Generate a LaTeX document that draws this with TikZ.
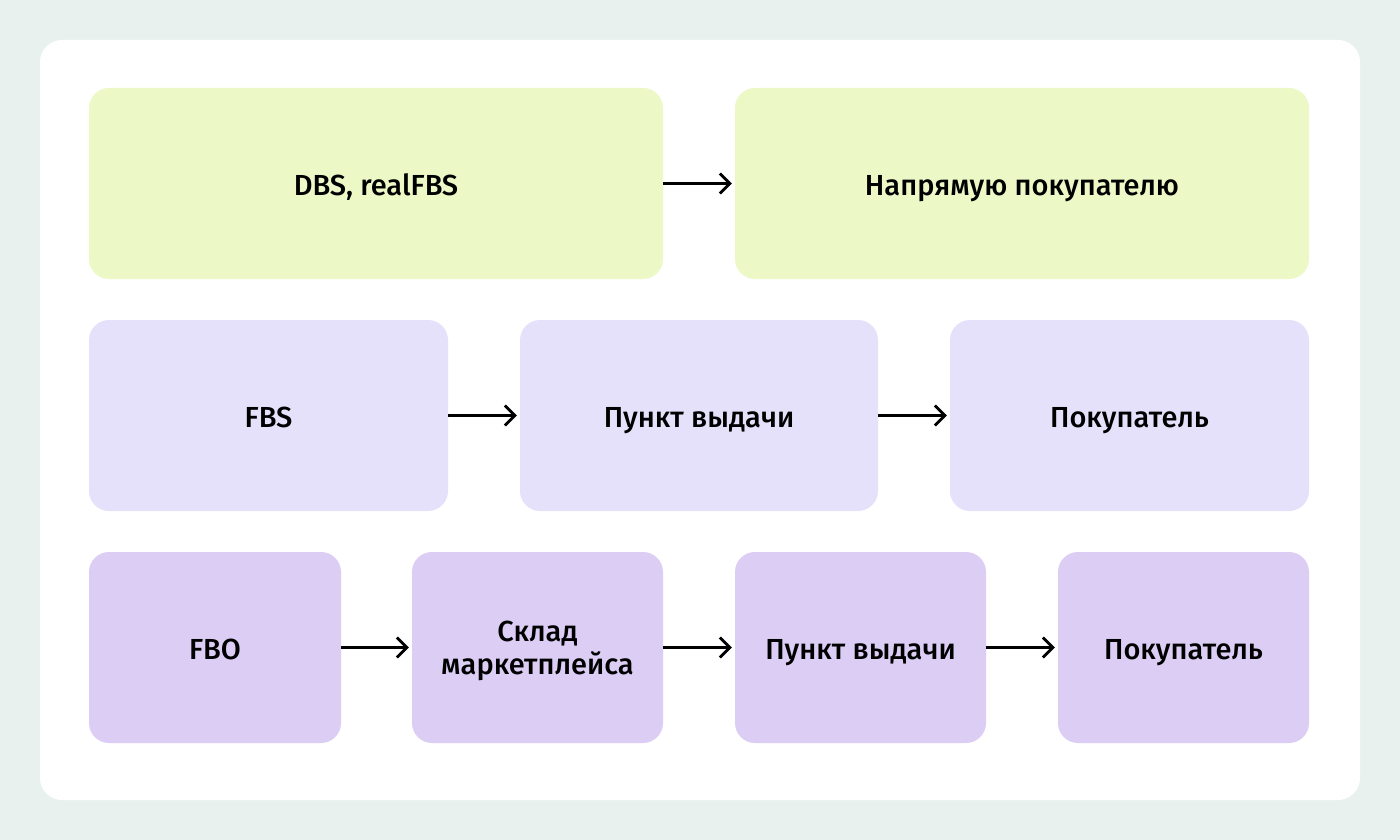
\documentclass[tikz,border=0pt]{standalone}
\usepackage{fontspec}
\setmainfont{Fira Sans}[UprightFont=* Medium, BoldFont=* SemiBold]
\usetikzlibrary{arrows.meta}
\definecolor{bgc}{HTML}{E9F1EF}
\definecolor{gbox}{HTML}{ECF8C5}
\definecolor{lbox}{HTML}{E6E1FB}
\definecolor{pbox}{HTML}{DCCDF5}
\tikzset{
  box/.style={rounded corners=20pt, inner sep=0pt, minimum height=191pt},
  txtbase/.style={inner sep=0pt, align=center, font=\fontsize{29}{33}\selectfont, text=black},
  txt/.style={txtbase, anchor=base, yshift=-11.5pt},
  txttwo/.style={txtbase, yshift=-3.5pt},
  arr/.style={line width=2.8pt, -{Straight Barb[length=10pt,width=20pt,line width=2.8pt]}, shorten >=3pt}
}
\begin{document}
\begin{tikzpicture}[x=1pt,y=-1pt]
\fill[bgc] (0,0) rectangle (1400,840);
\useasboundingbox (0,0) rectangle (1400,840);
\fill[white, rounded corners=22pt] (40,40) rectangle (1360,800);
% row 1
\node[box, fill=gbox, minimum width=574pt] (a1) at (376,183.5) {};
\node[box, fill=gbox, minimum width=574pt] (a2) at (1022,183.5) {};
% row 2
\node[box, fill=lbox, minimum width=359pt] (b1) at (268.5,415.5) {};
\node[box, fill=lbox, minimum width=358pt] (b2) at (699,415.5) {};
\node[box, fill=lbox, minimum width=359pt] (b3) at (1129.5,415.5) {};
% row 3
\node[box, fill=pbox, minimum width=252pt] (c1) at (215,647.5) {};
\node[box, fill=pbox, minimum width=251pt] (c2) at (537.5,647.5) {};
\node[box, fill=pbox, minimum width=251pt] (c3) at (860.5,647.5) {};
\node[box, fill=pbox, minimum width=251pt] (c4) at (1183.5,647.5) {};
% texts
\node[txt] (a1t) at (a1) {DBS, realFBS};
\node[txt] (a2t) at (a2) {Напрямую покупателю};
\node[txt] (b1t) at (b1) {FBS};
\node[txt] (b2t) at (b2) {Пункт выдачи};
\node[txt] (b3t) at (b3) {Покупатель};
\node[txt] (c1t) at (c1) {FBO};
\node[txttwo] (c2t) at (c2) {Склад\\маркетплейса};
\node[txt] (c3t) at (c3) {Пункт выдачи};
\node[txt] (c4t) at (c4) {Покупатель};
% arrows
\draw[arr] (a1) -- (a2);
\draw[arr] (b1) -- (b2);
\draw[arr] (b2) -- (b3);
\draw[arr] (c1) -- (c2);
\draw[arr] (c2) -- (c3);
\draw[arr] (c3) -- (c4);
\end{tikzpicture}
\end{document}
